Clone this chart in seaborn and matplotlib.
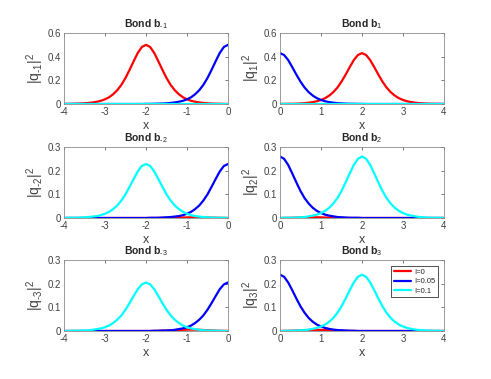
import matplotlib
matplotlib.use("Agg")
import matplotlib.pyplot as plt
import numpy as np
import pandas as pd
import seaborn as sns

# x grids for the left (negative) and right (positive) bonds
x_left = np.round(np.linspace(-4, 0, 41), 1)
x_right = np.round(np.linspace(0, 4, 41), 1)

labels = ["I=0", "I=0.05", "I=0.1"]
colors = ["#ff0000", "#0000ff", "#00ffff"]

# |q_-1|^2
bm1_red = [.001, .001, .002, .003, .004, .006, .009, .013, .019, .027,
           .040, .057, .083, .117, .162, .220, .289, .362, .432, .482,
           .500,
           .482, .432, .362, .289, .220, .162, .117, .083, .057, .040,
           .027, .019, .013, .009, .006, .004, .003, .002, .001, .001]
bm1_blue = [0, 0, 0, 0, 0, 0, 0, 0, 0, 0,
            0, 0, 0, 0, 0, 0, 0, 0, 0, 0,
            .001, .001, .002, .003, .004, .006, .009, .013, .019, .027,
            .040, .057, .083, .117, .162, .220, .289, .362, .432, .482,
            .500]
bm1_cyan = [0, 0, 0, 0, 0, 0, 0, 0, 0, 0,
            0, 0, 0, 0, 0, 0, 0, 0, 0, 0,
            0, 0, 0, 0, 0, 0, 0, 0, 0, 0,
            0, 0, 0, 0, 0, 0, 0, 0, 0, 0,
            0]

# |q_1|^2
b1_red = [.001, .001, .002, .002, .003, .005, .007, .011, .016, .023,
          .034, .049, .071, .100, .139, .189, .248, .311, .371, .414,
          .430,
          .414, .371, .311, .248, .189, .139, .100, .071, .049, .034,
          .023, .016, .011, .007, .005, .003, .002, .002, .001, .001]
b1_blue = [.430,
           .414, .371, .311, .248, .189, .139, .100, .071, .049, .034,
           .023, .016, .011, .007, .005, .003, .002, .002, .001, .001,
           0, 0, 0, 0, 0, 0, 0, 0, 0, 0,
           0, 0, 0, 0, 0, 0, 0, 0, 0, 0]
b1_cyan = [0, 0, 0, 0, 0, 0, 0, 0, 0, 0,
           0, 0, 0, 0, 0, 0, 0, 0, 0, 0,
           0, 0, 0, 0, 0, 0, 0, 0, 0, 0,
           0, 0, 0, 0, 0, 0, 0, 0, 0, 0,
           0]

# |q_-2|^2
bm2_red = [0, 0, 0, 0, 0, 0, 0, 0, 0, 0,
           0, 0, 0, 0, 0, 0, 0, 0, 0, 0,
           0, 0, 0,
           .0002, .0003, .0005, .0008, .0012, .0017, .0021, .0026, .003,
           .003, .003, .0026, .0021, .0017, .0012, .0008, .0005, .0003]
bm2_blue = [0, 0, 0, 0, 0, 0, 0, 0, 0, 0,
            0, 0, 0, 0, 0, 0, 0, 0, 0, 0,
            0, .001, .001, .001, .002, .003, .004, .006, .008, .012,
            .018, .026, .038, .053, .074, .100, .132, .165, .197, .220,
            .228]
bm2_cyan = [0, .001, .001, .001, .002, .003, .004, .006, .008, .012,
            .018, .026, .038, .053, .074, .100, .132, .165, .197, .220,
            .228,
            .220, .197, .165, .132, .100, .074, .053, .038, .026, .018,
            .012, .008, .006, .004, .003, .002, .001, .001, .001, 0]

# |q_2|^2
b2_red = [.0003, .0005, .0008, .0012, .0017, .0021, .0026, .003, .003,
          .003, .0026, .0021, .0017, .0012, .0008, .0005, .0003, .0002,
          0, 0, 0,
          0, 0, 0, 0, 0, 0, 0, 0, 0, 0,
          0, 0, 0, 0, 0, 0, 0, 0, 0, 0]
b2_blue = [.260,
           .250, .224, .188, .150, .114, .084, .061, .043, .030, .021,
           .014, .010, .007, .004, .003, .002, .001, .001, .001, 0,
           0, 0, 0, 0, 0, 0, 0, 0, 0, 0,
           0, 0, 0, 0, 0, 0, 0, 0, 0, 0]
b2_cyan = [0, .001, .001, .001, .002, .003, .004, .007, .010, .014,
           .021, .030, .043, .061, .084, .114, .150, .188, .224, .250,
           .260,
           .250, .224, .188, .150, .114, .084, .061, .043, .030, .021,
           .014, .010, .007, .004, .003, .002, .001, .001, .001, 0]

# |q_-3|^2
bm3_red = [0, 0, 0, 0, 0, 0, 0, 0, 0, 0,
           0, 0, 0, 0, 0, 0, 0, 0, 0, 0,
           0, 0,
           .0003, .0006, .0011, .0017, .0024, .0033, .0042, .0051, .0057,
           .006,
           .0057, .0051, .0042, .0033, .0024, .0017, .0011, .0006, .0003]
bm3_blue = [0, 0, 0, 0, 0, 0, 0, 0, 0, 0,
            0, 0, 0, 0, 0, 0, 0, 0, 0, 0,
            0, 0, .001, .001, .002, .002, .003, .005, .008, .011,
            .016, .023, .034, .048, .066, .090, .118, .148, .177, .197,
            .205]
bm3_cyan = [0, 0, .001, .001, .002, .002, .003, .005, .008, .011,
            .016, .023, .034, .048, .066, .090, .118, .148, .177, .197,
            .205,
            .197, .177, .148, .118, .090, .066, .048, .034, .023, .016,
            .011, .008, .005, .003, .002, .002, .001, .001, 0, 0]

# |q_3|^2
b3_red = [.0003, .0005, .0009, .0014, .002, .0028, .0035, .0043, .0048,
          .005,
          .0048, .0043, .0035, .0028, .002, .0014, .0009, .0005, .0003,
          0, 0,
          0, 0, 0, 0, 0, 0, 0, 0, 0, 0,
          0, 0, 0, 0, 0, 0, 0, 0, 0, 0]
b3_blue = [.238,
           .229, .205, .172, .137, .104, .077, .055, .039, .027, .019,
           .013, .009, .006, .004, .003, .002, .001, .001, 0, 0,
           0, 0, 0, 0, 0, 0, 0, 0, 0, 0,
           0, 0, 0, 0, 0, 0, 0, 0, 0, 0]
b3_cyan = [0, 0, .001, .001, .002, .003, .004, .006, .009, .013,
           .019, .027, .039, .055, .077, .104, .137, .172, .205, .229,
           .238,
           .229, .205, .172, .137, .104, .077, .055, .039, .027, .019,
           .013, .009, .006, .004, .003, .002, .001, .001, 0, 0]

panels = [
    ("-1", x_left, (bm1_red, bm1_blue, bm1_cyan), 0.6),
    ("1", x_right, (b1_red, b1_blue, b1_cyan), 0.6),
    ("-2", x_left, (bm2_red, bm2_blue, bm2_cyan), 0.3),
    ("2", x_right, (b2_red, b2_blue, b2_cyan), 0.3),
    ("-3", x_left, (bm3_red, bm3_blue, bm3_cyan), 0.3),
    ("3", x_right, (b3_red, b3_blue, b3_cyan), 0.3),
]

sns.set_theme(style="white")
plt.rcParams["font.family"] = ["Liberation Sans", "DejaVu Sans"]
plt.rcParams["mathtext.fontset"] = "custom"
plt.rcParams["mathtext.rm"] = "Liberation Sans"
plt.rcParams["mathtext.it"] = "Liberation Sans"
plt.rcParams["mathtext.bf"] = "Liberation Sans:bold"

fig = plt.figure(figsize=(4.91, 3.79), dpi=100)
W, H = 491, 379
lefts = [64, 280]
tops = [33, 147, 260]
aw, ah = 164, 71

for i, (name, xs, ys, ymax) in enumerate(panels):
    row, col = divmod(i, 2)
    ax = fig.add_axes([lefts[col] / W, 1 - (tops[row] + ah) / H, aw / W, ah / H])
    df = pd.concat([pd.DataFrame({"x": xs, "y": y, "I": lab}) for y, lab in zip(ys, labels)])
    sns.lineplot(data=df, x="x", y="y", hue="I", hue_order=labels, palette=colors,
                 linewidth=1.6, ax=ax, legend=(i == 5))
    ax.set_xlim(xs[0], xs[-1])
    ax.set_ylim(0, ymax)
    ax.set_xticks(np.arange(xs[0], xs[-1] + 0.5, 1))
    step = 0.2 if ymax > 0.5 else 0.1
    ax.set_yticks(np.round(np.arange(0, ymax + step / 2, step), 1))
    ax.xaxis.set_major_formatter(matplotlib.ticker.FormatStrFormatter("%g"))
    ax.yaxis.set_major_formatter(matplotlib.ticker.FormatStrFormatter("%g"))
    ax.tick_params(direction="in", length=2.5, width=0.5, labelsize=7, colors="0.25",
                   top=True, right=True, pad=2)
    for s in ax.spines.values():
        s.set_color("0.55")
        s.set_linewidth(0.6)
    sub = r"$_{\text{" + name + "}}$"
    ax.set_title("Bond b" + sub, fontsize=7.5, fontweight="bold", pad=4)
    ax.set_xlabel("x", fontsize=9, color="0.25", labelpad=2)
    ax.set_ylabel("|q" + sub + "|$^2$", fontsize=10, color="0.25", labelpad=1)
    if i == 5:
        leg = ax.legend(loc="upper right", fontsize=5.5, frameon=True, fancybox=False,
                        handlelength=2.2, handletextpad=0.4, borderpad=0.35,
                        labelspacing=0.25, borderaxespad=0.8)
        leg.get_frame().set_edgecolor("black")
        leg.get_frame().set_linewidth(0.6)
        leg.set_title(None)

fig.savefig("out.png", dpi=100)
